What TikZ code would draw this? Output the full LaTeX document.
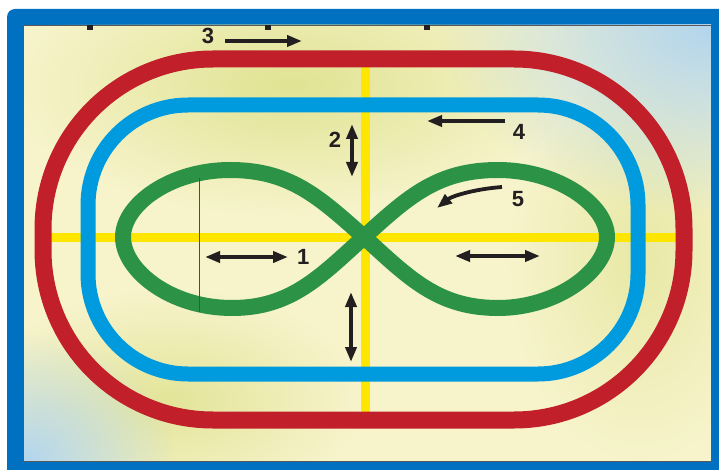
\documentclass[tikz,border=0pt]{standalone}
\usepackage{fontspec}
\setmainfont{Liberation Sans}
\usepackage{tikz}
\usetikzlibrary{arrows.meta, positioning, fadings}
\definecolor{myframe}{RGB}{0,112,192}
\definecolor{myred}{RGB}{193,32,42}
\definecolor{myblue}{RGB}{0,155,222}
\definecolor{mygreen}{RGB}{44,146,70}
\definecolor{myyellow}{RGB}{255,230,0}
\definecolor{mydark}{RGB}{35,31,32}
\definecolor{bgcream}{RGB}{247,244,204}
\definecolor{bgolive}{RGB}{222,225,140}
\definecolor{bgsky}{RGB}{178,213,238}
\tikzfading[name=glow, inner color=transparent!0, outer color=transparent!100]
\tikzset{
  redtrack/.style={draw=myred, line width=17pt, rounded corners=170pt},
  bluetrack/.style={draw=myblue, line width=15pt, rounded corners=100pt},
  greentrack/.style={draw=mygreen, line width=16pt, line join=round},
  axisline/.style={draw=myyellow, line width=9pt},
  arrow/.style={-{Triangle[length=15pt,width=11pt]}, line width=3.8pt, color=mydark},
  dblarrow/.style={{Triangle[length=15pt,width=11pt]}-{Triangle[length=15pt,width=11pt]},
    line width=3.8pt, color=mydark},
  numlbl/.style={font=\fontsize{22}{22}\selectfont\bfseries, text=mydark, inner sep=0pt}
}

\begin{document}
\begin{tikzpicture}[x=1pt, y=-1pt]
  \useasboundingbox (0,0) rectangle (719,470);
  \clip (0,0) rectangle (719,470);

  % frame and background
  \fill[white] (0,0) rectangle (719,470);
  \fill[myframe, rounded corners=8pt] (7,9) rectangle (740,490);
  \begin{scope}
    \clip (23,25) rectangle (711,461);
    \fill[bgcream] (23,25) rectangle (711,461);
    \fill[bgolive, path fading=glow, opacity=0.9] (290,85) ellipse (280pt and 130pt);
    \fill[bgolive, path fading=glow, opacity=0.8] (170,400) ellipse (190pt and 110pt);
    \fill[bgolive, path fading=glow, opacity=0.6] (640,260) ellipse (130pt and 200pt);
    \fill[bgsky, path fading=glow] (711,25) ellipse (270pt and 190pt);
    \fill[bgsky, path fading=glow] (25,461) ellipse (150pt and 130pt);
  \end{scope}
  \draw[gray!70!black, line width=0.8pt] (23,25) rectangle (711,461);

  % cut-off marks at the top
  \fill[mydark] (87,25) rectangle (93,30);
  \fill[mydark] (265,25) rectangle (271,30);
  \fill[mydark] (424,25) rectangle (430,30);

  % axes
  \draw[axisline] (365,60) -- (365,420);
  \draw[axisline] (43,237) -- (684,237);

  % tracks
  \draw[redtrack] (43,59) rectangle (684,420);
  \draw[bluetrack] (88,105) rectangle (638,374);
  \draw[greentrack] (364,237) .. controls (319,197) and (290,170) .. (230,170)
    .. controls (170,170) and (123,205) .. (123,237)
    .. controls (123,270) and (170,308) .. (232,308)
    .. controls (290,308) and (319,278) .. (364,237)
    .. controls (409,196) and (438,170) .. (498,170)
    .. controls (558,170) and (607,205) .. (607,237)
    .. controls (607,270) and (558,308) .. (498,308)
    .. controls (438,308) and (409,278) .. (364,237) -- cycle;
  \draw[gray!60!black, line width=0.8pt] (199,178) -- (199,312);

  % arrows
  \coordinate (a1s) at (205,257);
  \coordinate (a1e) at (288,257);
  \coordinate (a2s) at (352,124);
  \coordinate (a2e) at (352,177);
  \coordinate (a3s) at (225,41);
  \coordinate (a3e) at (302,41);
  \coordinate (a4s) at (505,121);
  \coordinate (a4e) at (427,121);
  \coordinate (a5s) at (502,187);
  \coordinate (a5e) at (437,208);
  \coordinate (b1s) at (455,256);
  \coordinate (b1e) at (540,256);
  \coordinate (b2s) at (351,292);
  \coordinate (b2e) at (351,362);

  \draw[dblarrow] (a1s) -- (a1e);
  \draw[dblarrow] (a2s) -- (a2e);
  \draw[arrow] (a3s) -- (a3e);
  \draw[arrow] (a4s) -- (a4e);
  \draw[arrow] (a5s) .. controls (475,189) and (452,196) .. (a5e);
  \draw[dblarrow] (b1s) -- (b1e);
  \draw[dblarrow] (b2s) -- (b2e);

  \node[numlbl, right=9pt of a1e] (lbl1) {1};
  \node[numlbl] (lbl2) at (335,140) {2};
  \node[numlbl] (lbl3) at (208,36) {3};
  \node[numlbl] (lbl4) at (519,132) {4};
  \node[numlbl] (lbl5) at (518,199) {5};
\end{tikzpicture}
\end{document}
